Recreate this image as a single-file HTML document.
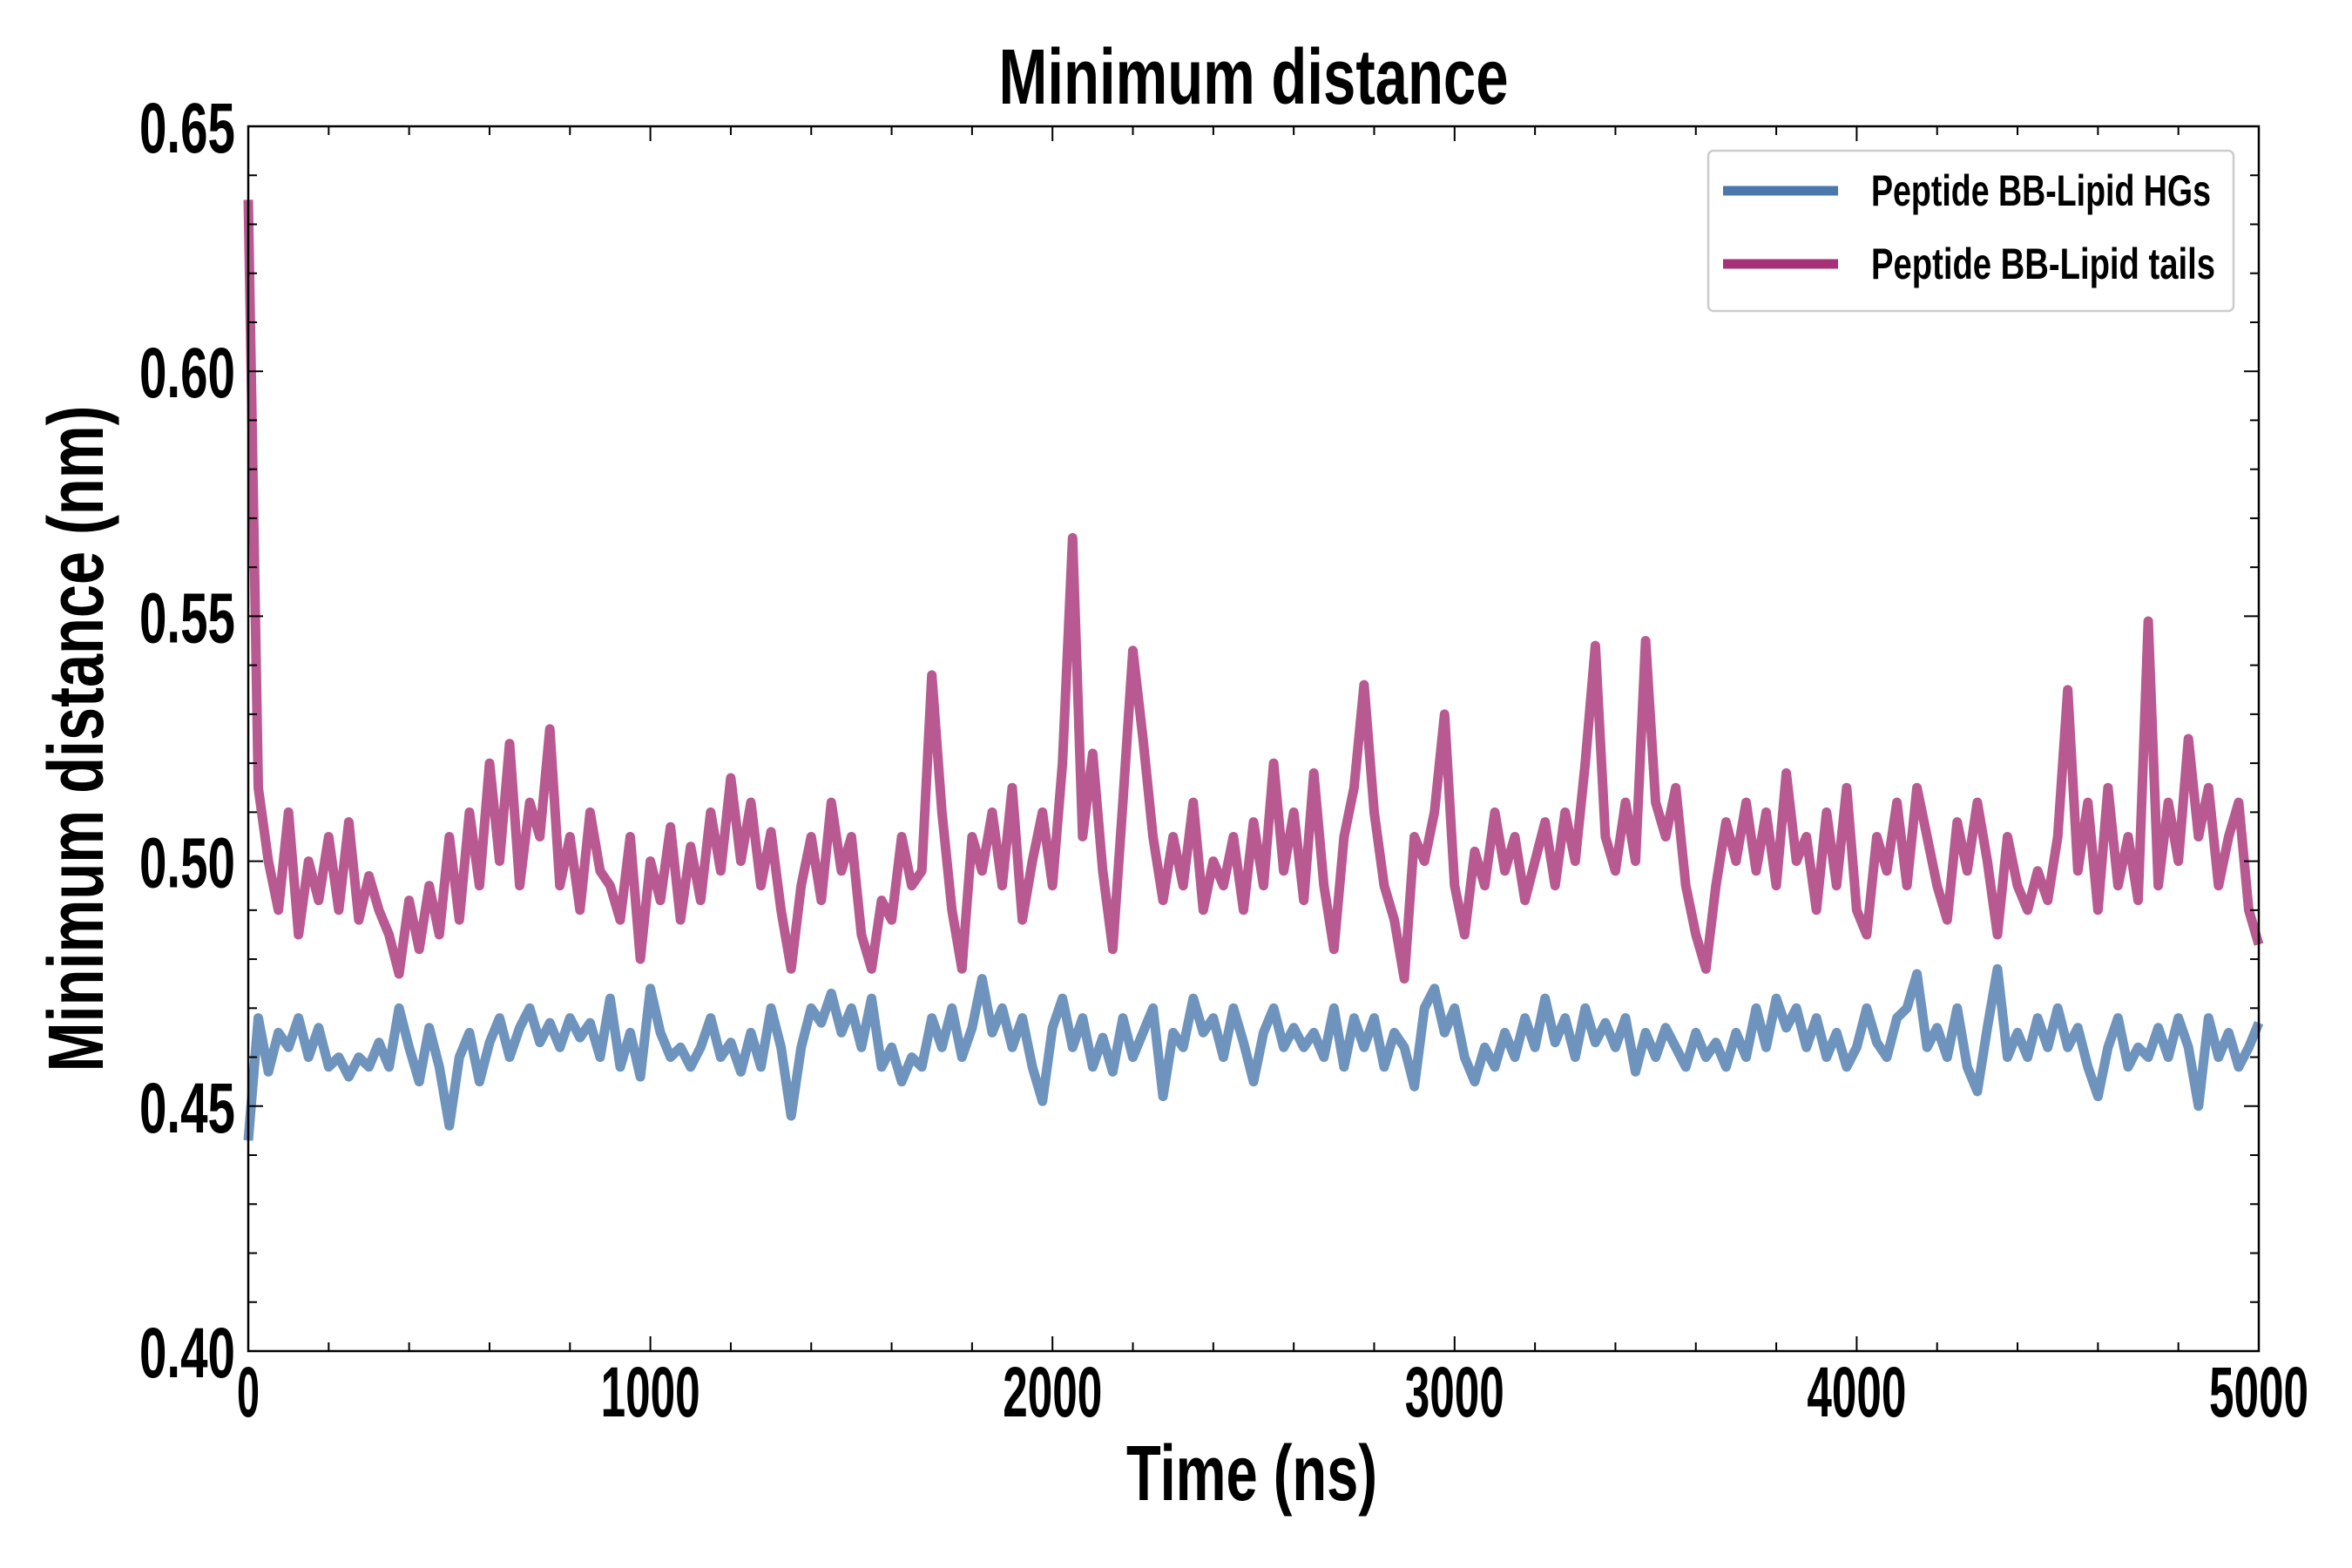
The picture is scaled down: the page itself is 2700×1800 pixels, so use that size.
<!DOCTYPE html>
<html><head><meta charset="utf-8"><style>
html,body{margin:0;padding:0;background:#fff;}
svg{display:block;}
text{font-family:"Liberation Sans Narrow","Liberation Sans",sans-serif;font-weight:bold;fill:#000;}
</style></head><body>
<svg id="chart" width="2700" height="1800" viewBox="0 0 2700 1800" xmlns="http://www.w3.org/2000/svg">
<rect width="2700" height="1800" fill="#fff"/>
<g id="marks"></g>
<g id="axes"></g>
<text x="1439" y="119" text-anchor="middle" font-size="90" textLength="585" lengthAdjust="spacingAndGlyphs">Minimum distance</text>
<text x="1437" y="1722" text-anchor="middle" font-size="90" textLength="288" lengthAdjust="spacingAndGlyphs">Time (ns)</text>
<text transform="translate(118,848) rotate(-90)" text-anchor="middle" font-size="90" textLength="765" lengthAdjust="spacingAndGlyphs">Minimum distance (nm)</text>
<g>
<rect x="1961" y="173" width="603" height="184" rx="6" fill="#fff" stroke="#ccc" stroke-width="2.5"/>
<line x1="1978" y1="219" x2="2110" y2="219" stroke="#4a78ad" stroke-width="11"/>
<text x="2148" y="236" font-size="50" textLength="390" lengthAdjust="spacingAndGlyphs">Peptide BB-Lipid HGs</text>
<line x1="1978" y1="303" x2="2110" y2="303" stroke="#a63176" stroke-width="11"/>
<text x="2148" y="320" font-size="50" textLength="395" lengthAdjust="spacingAndGlyphs">Peptide BB-Lipid tails</text>
</g>
</svg>
<script>
const xTicks=[0,1000,2000,3000,4000,5000];
const xTickLabels=["0","1000","2000","3000","4000","5000"];
const yTicks=[0.40,0.45,0.50,0.55,0.60,0.65];
const yTickLabels=["0.40","0.45","0.50","0.55","0.60","0.65"];
const tailsValues=[0.635,0.515,0.500,0.490,0.510,0.485,0.500,0.492,0.505,0.490,0.508,0.488,0.497,0.490,0.485,0.477,0.492,0.482,0.495,0.485,0.505,0.488,0.510,0.495,0.520,0.500,0.524,0.495,0.512,0.505,0.527,0.495,0.505,0.490,0.510,0.498,0.495,0.488,0.505,0.480,0.500,0.492,0.507,0.488,0.503,0.492,0.510,0.498,0.517,0.500,0.512,0.495,0.506,0.490,0.478,0.495,0.505,0.492,0.512,0.498,0.505,0.485,0.478,0.492,0.488,0.505,0.495,0.498,0.538,0.510,0.490,0.478,0.505,0.498,0.510,0.495,0.515,0.488,0.500,0.510,0.495,0.520,0.566,0.505,0.522,0.498,0.482,0.512,0.543,0.525,0.505,0.492,0.505,0.495,0.512,0.490,0.500,0.495,0.505,0.490,0.508,0.495,0.520,0.498,0.510,0.492,0.518,0.495,0.482,0.505,0.515,0.536,0.510,0.495,0.488,0.476,0.505,0.500,0.510,0.530,0.495,0.485,0.502,0.495,0.510,0.498,0.505,0.492,0.500,0.508,0.495,0.510,0.500,0.520,0.544,0.505,0.498,0.512,0.500,0.545,0.512,0.505,0.515,0.495,0.485,0.478,0.495,0.508,0.500,0.512,0.498,0.510,0.495,0.518,0.500,0.505,0.490,0.510,0.495,0.515,0.490,0.485,0.505,0.498,0.512,0.495,0.515,0.505,0.495,0.488,0.508,0.498,0.512,0.500,0.485,0.505,0.495,0.490,0.498,0.492,0.505,0.535,0.498,0.512,0.490,0.515,0.495,0.505,0.492,0.549,0.495,0.512,0.500,0.525,0.505,0.515,0.495,0.505,0.512,0.490,0.483];
const hgValues=[0.443,0.468,0.457,0.465,0.462,0.468,0.460,0.466,0.458,0.460,0.456,0.460,0.458,0.463,0.458,0.470,0.462,0.455,0.466,0.458,0.446,0.460,0.465,0.455,0.463,0.468,0.460,0.466,0.470,0.463,0.467,0.462,0.468,0.464,0.467,0.460,0.472,0.458,0.465,0.456,0.474,0.465,0.460,0.462,0.458,0.462,0.468,0.460,0.463,0.457,0.465,0.458,0.470,0.462,0.448,0.462,0.470,0.467,0.473,0.465,0.470,0.462,0.472,0.458,0.462,0.455,0.460,0.458,0.468,0.462,0.470,0.460,0.466,0.476,0.465,0.470,0.462,0.468,0.458,0.451,0.466,0.472,0.462,0.468,0.458,0.464,0.457,0.468,0.460,0.465,0.470,0.452,0.465,0.462,0.472,0.465,0.468,0.460,0.470,0.463,0.455,0.465,0.470,0.462,0.466,0.462,0.465,0.460,0.470,0.458,0.468,0.462,0.468,0.458,0.465,0.462,0.454,0.470,0.474,0.465,0.470,0.460,0.455,0.462,0.458,0.465,0.460,0.468,0.462,0.472,0.463,0.468,0.460,0.470,0.463,0.467,0.462,0.468,0.457,0.465,0.460,0.466,0.462,0.458,0.465,0.460,0.463,0.458,0.465,0.460,0.470,0.462,0.472,0.466,0.470,0.462,0.468,0.460,0.465,0.458,0.462,0.470,0.463,0.460,0.468,0.470,0.477,0.462,0.466,0.460,0.470,0.458,0.453,0.466,0.478,0.460,0.465,0.460,0.468,0.462,0.470,0.462,0.466,0.458,0.452,0.462,0.468,0.458,0.462,0.460,0.466,0.460,0.468,0.462,0.450,0.468,0.460,0.465,0.458,0.462,0.467];
const X0=285,X1=2593,Y0=1551,Y1=145,XMAX=5000,YMIN=0.40,YMAX=0.65;
const sx=t=>X0+(t/XMAX)*(X1-X0);
const sy=v=>Y0-(v-YMIN)/(YMAX-YMIN)*(Y0-Y1);
const NS="http://www.w3.org/2000/svg";
const marks=document.getElementById('marks'),axes=document.getElementById('axes');
function mk(tag,parent){const e=document.createElementNS(NS,tag);parent.appendChild(e);return e;}
function series(vals,color,name){
  const n=vals.length;
  const d=vals.map((v,i)=>(i?'L':'M')+sx(i*XMAX/(n-1)).toFixed(1)+','+sy(v).toFixed(1)).join('');
  const p=mk('path',marks);
  
  
  p.setAttribute('d',d);p.setAttribute('fill','none');p.setAttribute('stroke',color);
  p.setAttribute('stroke-opacity','0.8');p.setAttribute('stroke-width','11');p.setAttribute('stroke-linejoin','round');
}
series(hgValues,'#4a78ad','series-lipid-hgs');
series(tailsValues,'#a63176','series-lipid-tails');
const frame=mk('rect',axes);


frame.setAttribute('x',X0);frame.setAttribute('y',Y1);frame.setAttribute('width',X1-X0);frame.setAttribute('height',Y0-Y1);
frame.setAttribute('fill','none');frame.setAttribute('stroke','#000');frame.setAttribute('stroke-width','2.5');
function tick(x1,y1,x2,y2,name){const l=mk('line',axes);
  
  
  l.setAttribute('x1',x1);l.setAttribute('y1',y1);l.setAttribute('x2',x2);l.setAttribute('y2',y2);l.setAttribute('stroke','#000');l.setAttribute('stroke-width','2');}
for(let t=0;t<=XMAX;t+=200){const x=sx(t);const L=(t%1000===0)?17:10;
  tick(x,Y0,x,Y0-L,'x-tick');tick(x,Y1,x,Y1+L,'x-tick-top');}
for(let k=0;k<=25;k++){const v=YMIN+k*0.01;const y=sy(v);const L=(k%5===0)?17:10;
  tick(X0,y,X0+L,y,'y-tick');tick(X1,y,X1-L,y,'y-tick-right');}
xTicks.forEach((t,i)=>{const tx=mk('text',axes);
  
  
  tx.setAttribute('x',sx(t));tx.setAttribute('y',1626);tx.setAttribute('text-anchor','middle');tx.setAttribute('font-size','82');
  tx.setAttribute('textLength',xTickLabels[i].length>1?'114':'26');tx.setAttribute('lengthAdjust','spacingAndGlyphs');
  tx.textContent=xTickLabels[i];});
yTicks.forEach((v,i)=>{const tx=mk('text',axes);
  
  
  tx.setAttribute('x',270);tx.setAttribute('y',sy(v)+30);tx.setAttribute('text-anchor','end');tx.setAttribute('font-size','82');
  tx.setAttribute('textLength','110');tx.setAttribute('lengthAdjust','spacingAndGlyphs');
  tx.textContent=yTickLabels[i];});
</script>
</body></html>
